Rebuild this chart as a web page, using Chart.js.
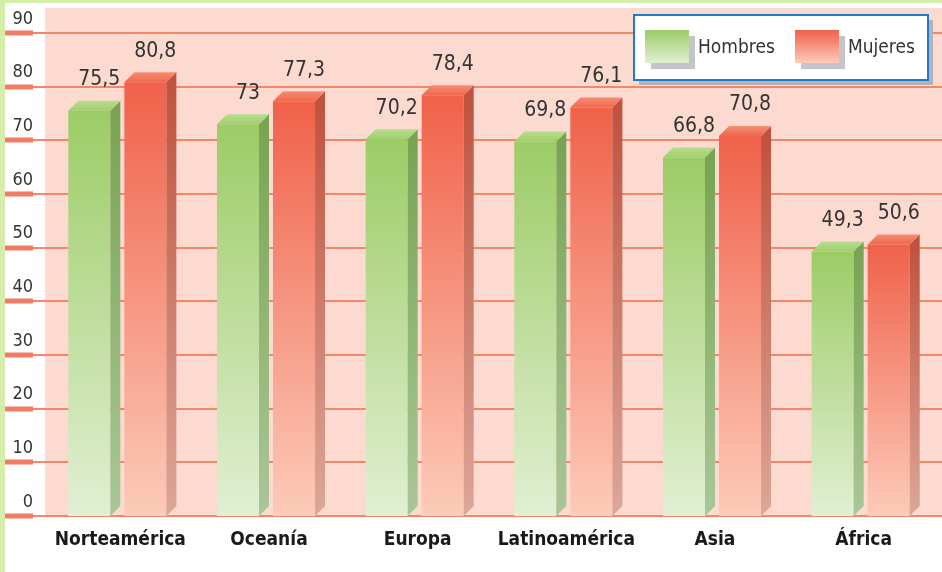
<!DOCTYPE html>
<html>
<head>
<meta charset="utf-8">
<script src="https://cdn.jsdelivr.net/npm/chart.js@4"></script>
<style>
  html, body { margin: 0; padding: 0; background: #fff; }
</style>
</head>
<body>
<canvas id="chart" width="942" height="572"></canvas>
<script>
const regions = ["Norteamérica", "Oceanía", "Europa", "Latinoamérica", "Asia", "África"];
const hombres = [75.5, 73, 70.2, 69.8, 66.8, 49.3];
const mujeres = [80.8, 77.3, 78.4, 76.1, 70.8, 50.6];
const seriesNames = ["Hombres", "Mujeres"];
const yTicks = [0, 10, 20, 30, 40, 50, 60, 70, 80, 90];

const FONT = '"DejaVu Sans Condensed", "Liberation Sans Narrow", "DejaVu Sans", sans-serif';
const DEPTH = 10;

// front / side / top colours for each series
const palette = [
  { front: ["#9ccc66", "#e1efd3"], side: ["#78a452", "#a9c797"], top: ["#b8dd90", "#a0cf6b"] },
  { front: ["#f0614a", "#fccbb9"], side: ["#c0523e", "#dca799"], top: ["#f68d73", "#ef684d"] }
];

function fmt(v) {
  return String(v).replace(".", ",");
}

function frontFill(ctx) {
  const chart = ctx.chart;
  const c = palette[ctx.datasetIndex];
  if (!chart.chartArea) return c.front[0];
  const y = chart.scales.y;
  const top = y.getPixelForValue(ctx.raw);
  const base = y.getPixelForValue(0);
  const g = chart.ctx.createLinearGradient(0, top, 0, base);
  g.addColorStop(0, c.front[0]);
  g.addColorStop(1, c.front[1]);
  return g;
}

const bars3d = {
  id: "bars3d",
  beforeDraw(chart) {
    const { ctx, chartArea } = chart;
    ctx.save();
    ctx.fillStyle = "#fff";
    ctx.fillRect(0, 0, chart.width, chart.height);
    ctx.fillStyle = "#d4eda9";
    ctx.fillRect(0, 0, 5, chart.height);
    ctx.fillRect(0, 0, chart.width, 3);
    ctx.fillStyle = "#fcdad0";
    ctx.fillRect(45, 8, chart.width - 45, chartArea.bottom - 8);
    ctx.restore();
  },
  beforeDatasetsDraw(chart) {
    const { ctx, scales: { y } } = chart;
    ctx.save();
    yTicks.forEach(v => {
      const py = Math.round(y.getPixelForValue(v));
      ctx.fillStyle = "#f4866a";
      ctx.fillRect(33, py - 1, chart.width - 33, 2);
      ctx.fillStyle = "#f27c62";
      ctx.fillRect(5, py - 2.5, 28, 5);
    });
    ctx.restore();
  },
  afterDatasetsDraw(chart) {
    const ctx = chart.ctx;
    ctx.save();
    const labels = [];
    chart.data.datasets.forEach((ds, i) => {
      const c = palette[i];
      chart.getDatasetMeta(i).data.forEach((bar, j) => {
        const { x, y: top, base, width } = bar.getProps(["x", "y", "base", "width"], true);
        const l = x - width / 2, r = x + width / 2;

        let g = ctx.createLinearGradient(0, top, 0, base);
        g.addColorStop(0, c.side[0]);
        g.addColorStop(1, c.side[1]);
        ctx.fillStyle = g;
        ctx.beginPath();
        ctx.moveTo(r, top);
        ctx.lineTo(r + DEPTH, top - DEPTH);
        ctx.lineTo(r + DEPTH, base - DEPTH);
        ctx.lineTo(r, base);
        ctx.closePath();
        ctx.fill();

        g = ctx.createLinearGradient(0, top - DEPTH, 0, top);
        g.addColorStop(0, c.top[0]);
        g.addColorStop(1, c.top[1]);
        ctx.fillStyle = g;
        ctx.beginPath();
        ctx.moveTo(l, top);
        ctx.lineTo(l + DEPTH, top - DEPTH);
        ctx.lineTo(r + DEPTH, top - DEPTH);
        ctx.lineTo(r, top);
        ctx.closePath();
        ctx.fill();

        labels.push([fmt(ds.data[j]), x + DEPTH, top - 31]);
      });
    });
    ctx.fillStyle = "#333";
    ctx.font = "21px " + FONT;
    ctx.textAlign = "center";
    ctx.textBaseline = "middle";
    labels.forEach(([t, x, y]) => ctx.fillText(t, x, y));
    ctx.restore();
  },
  afterDraw(chart) {
    // boxed legend, top right
    const ctx = chart.ctx;
    const lw = 294, lh = 65;
    const lx = chart.width - 308, ly = 15;
    ctx.save();
    ctx.fillStyle = "#b2b2ba";
    ctx.fillRect(lx + 5, ly + 5, lw, lh);
    ctx.fillStyle = "#fff";
    ctx.fillRect(lx, ly, lw, lh);
    ctx.strokeStyle = "#1f7ccc";
    ctx.lineWidth = 2;
    ctx.strokeRect(lx, ly, lw, lh);
    ctx.font = "19px " + FONT;
    ctx.textBaseline = "middle";
    ctx.textAlign = "left";
    chart.data.datasets.forEach((ds, i) => {
      const sx = lx + 11 + i * 150, sy = ly + 15;
      ctx.fillStyle = "#c4c4cc";
      ctx.fillRect(sx + 6, sy + 6, 44, 33);
      const g = ctx.createLinearGradient(0, sy, 0, sy + 33);
      g.addColorStop(0, palette[i].front[0]);
      g.addColorStop(1, palette[i].front[1]);
      ctx.fillStyle = "#fff";
      ctx.fillRect(sx, sy, 44, 33);
      ctx.fillStyle = g;
      ctx.fillRect(sx, sy, 44, 33);
      ctx.fillStyle = "#333";
      ctx.fillText(ds.label, sx + 53, sy + 18);
    });
    ctx.restore();
  }
};

new Chart(document.getElementById("chart"), {
  type: "bar",
  data: {
    labels: regions,
    datasets: [
      { label: seriesNames[0], data: hombres, backgroundColor: frontFill },
      { label: seriesNames[1], data: mujeres, backgroundColor: frontFill }
    ]
  },
  options: {
    responsive: false,
    animation: false,
    categoryPercentage: 0.754,
    barPercentage: 0.75,
    layout: { padding: { top: 33, right: 7, left: 0, bottom: 0 } },
    plugins: {
      legend: { display: false },
      tooltip: { enabled: false }
    },
    scales: {
      x: {
        grid: { display: false, drawTicks: false },
        border: { display: false },
        ticks: {
          color: "#1a1a1a",
          font: { family: FONT, size: 19, weight: "bold" },
          padding: 13,
          labelOffset: 3,
          autoSkip: false,
          maxRotation: 0
        },
        afterFit(scale) { scale.height = 56; }
      },
      y: {
        min: 0,
        max: 90,
        grid: { display: false, drawTicks: false },
        border: { display: false },
        ticks: {
          stepSize: 10,
          color: "#333",
          font: { family: FONT, size: 18 },
          padding: 10,
          labelOffset: -14
        },
        afterFit(scale) { scale.width = 43; }
      }
    }
  },
  plugins: [bars3d]
});
</script>
</body>
</html>
